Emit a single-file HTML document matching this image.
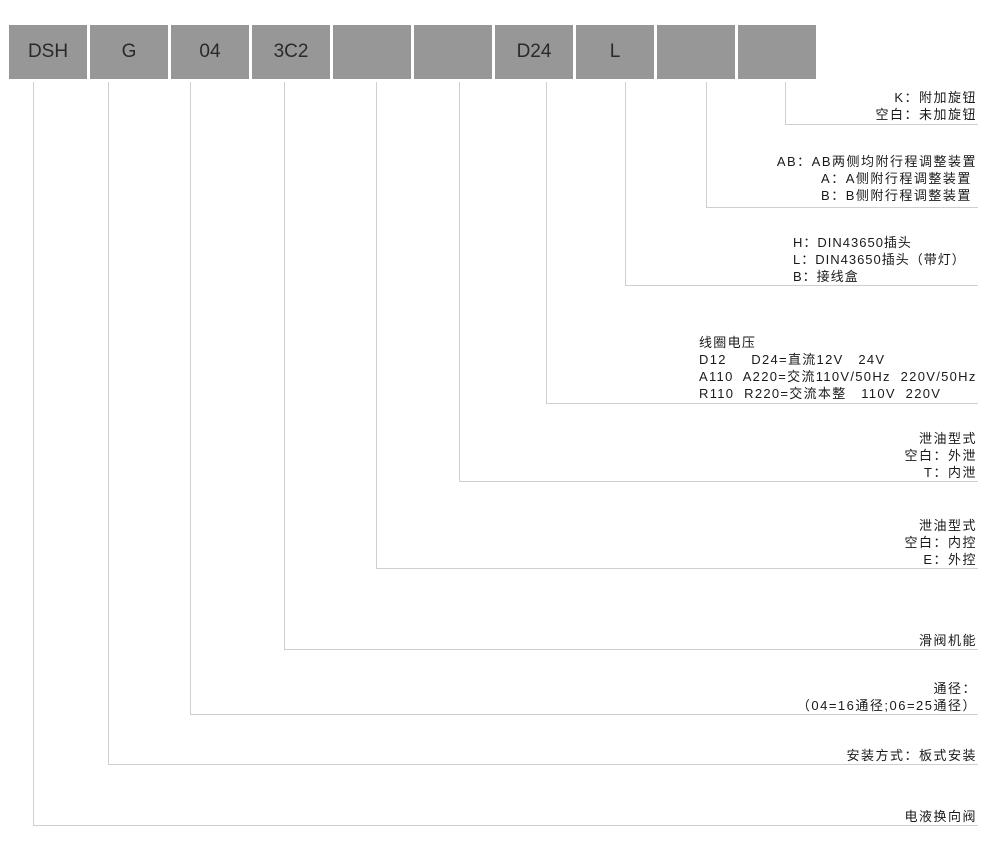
<!DOCTYPE html>
<html><head><meta charset="utf-8"><style>
body{margin:0;width:1000px;height:849px;background:#fff;position:relative;overflow:hidden;font-family:"Liberation Sans","Noto Sans CJK SC",sans-serif;}
.b{position:absolute;top:25px;width:78px;height:54px;background:#979797;color:#2a2a2a;font-size:19px;line-height:54px;text-align:center;}
.v{position:absolute;top:82px;width:1px;background:#cfcfcf;}
.h{position:absolute;height:1px;background:#cfcfcf;right:22px;}
.t{position:absolute;right:23px;font-size:13px;letter-spacing:1.5px;line-height:17px;color:#1a1a1a;text-align:right;white-space:pre;}
.l{letter-spacing:1.3px;}
</style></head><body>
<div class="b" style="left:9px">DSH</div>
<div class="b" style="left:90px">G</div>
<div class="b" style="left:171px">04</div>
<div class="b" style="left:252px">3C2</div>
<div class="b" style="left:333px"></div>
<div class="b" style="left:414px"></div>
<div class="b" style="left:495px">D24</div>
<div class="b" style="left:576px">L</div>
<div class="b" style="left:657px"></div>
<div class="b" style="left:738px"></div>

<div class="v" style="left:33px;height:743px"></div><div class="h" style="left:33px;top:825px"></div>
<div class="v" style="left:108px;height:682px"></div><div class="h" style="left:108px;top:764px"></div>
<div class="v" style="left:190px;height:632px"></div><div class="h" style="left:190px;top:714px"></div>
<div class="v" style="left:284px;height:567px"></div><div class="h" style="left:284px;top:649px"></div>
<div class="v" style="left:376px;height:486px"></div><div class="h" style="left:376px;top:568px"></div>
<div class="v" style="left:459px;height:399px"></div><div class="h" style="left:459px;top:481px"></div>
<div class="v" style="left:546px;height:321px"></div><div class="h" style="left:546px;top:403px"></div>
<div class="v" style="left:625px;height:203px"></div><div class="h" style="left:625px;top:285px"></div>
<div class="v" style="left:706px;height:125px"></div><div class="h" style="left:706px;top:207px"></div>
<div class="v" style="left:785px;height:42px"></div><div class="h" style="left:785px;top:124px"></div>

<div class="t" style="top:89px">K：附加旋钮
空白：未加旋钮</div>
<div class="t" style="top:153px">AB：AB两侧均附行程调整装置
A：A侧附行程调整装置 
B：B侧附行程调整装置 </div>
<div class="t" style="top:234px;text-align:left;left:793px;right:auto;letter-spacing:1px">H：DIN43650插头
L：DIN43650插头（带灯）
B：接线盒</div>
<div class="t l" style="top:334px;text-align:left;left:699px;right:auto">线圈电压
D12     D24=直流12V   24V
A110  A220=交流110V/50Hz  220V/50Hz
R110  R220=交流本整   110V  220V</div>
<div class="t" style="top:430px">泄油型式
空白：外泄
T：内泄</div>
<div class="t" style="top:517px">泄油型式
空白：内控
E：外控</div>
<div class="t" style="top:632px">滑阀机能</div>
<div class="t" style="top:680px">通径：
（04=16通径;06=25通径）</div>
<div class="t" style="top:747px">安装方式：板式安装</div>
<div class="t" style="top:808px">电液换向阀</div>
</body></html>
